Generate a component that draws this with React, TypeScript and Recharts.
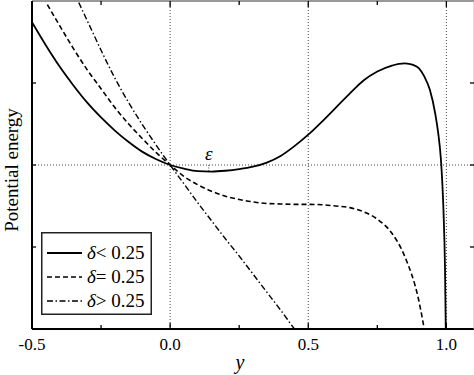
import React from 'react';
import { LineChart, Line, XAxis, YAxis, ReferenceLine, ReferenceDot } from 'recharts';

// ---- data ----
const xTicks = [-0.5, -0.25, 0, 0.25, 0.5, 0.75, 1.0];
const majorXTicks = [-0.5, 0, 0.5, 1.0];
const yTicks = [-1, 0, 1];
const gridX = [0, 0.5, 1.0];

const xSolid = [-0.5, -0.45, -0.4, -0.35, -0.3, -0.25, -0.2, -0.15, -0.1, -0.05, 0, 0.05, 0.1, 0.15, 0.2, 0.25, 0.3, 0.35, 0.4, 0.45, 0.5, 0.55, 0.6, 0.65, 0.7, 0.75, 0.8, 0.85, 0.88, 0.9, 0.92, 0.94, 0.96, 0.97, 0.98, 0.985, 0.99, 0.995, 0.999];
const vSolid = [1.74, 1.46, 1.2, 0.97, 0.76, 0.58, 0.42, 0.28, 0.16, 0.07, 0, -0.045, -0.075, -0.08, -0.07, -0.05, -0.02, 0.03, 0.11, 0.23, 0.37, 0.53, 0.7, 0.87, 1.03, 1.14, 1.21, 1.24, 1.22, 1.18, 1.08, 0.92, 0.62, 0.4, 0.08, -0.2, -0.6, -1.25, -2.3];

const xDashed = [-0.5, -0.45, -0.4, -0.35, -0.3, -0.25, -0.2, -0.15, -0.1, -0.05, 0, 0.05, 0.1, 0.15, 0.2, 0.25, 0.3, 0.35, 0.4, 0.45, 0.5, 0.55, 0.6, 0.65, 0.7, 0.75, 0.8, 0.85, 0.9, 0.93];
const vDashed = [2.3, 1.99, 1.7, 1.42, 1.16, 0.93, 0.7, 0.5, 0.32, 0.15, 0, -0.14, -0.24, -0.32, -0.38, -0.42, -0.45, -0.47, -0.475, -0.48, -0.48, -0.485, -0.5, -0.52, -0.57, -0.66, -0.82, -1.12, -1.65, -2.2];

const xDashDot = [-0.35, -0.3, -0.25, -0.2, -0.15, -0.1, -0.05, 0, 0.05, 0.1, 0.15, 0.2, 0.25, 0.3, 0.35, 0.4, 0.45, 0.5];
const vDashDot = [2.12, 1.76, 1.4, 1.06, 0.76, 0.49, 0.24, 0, -0.23, -0.46, -0.68, -0.9, -1.11, -1.33, -1.55, -1.77, -2.0, -2.22];

const epsX = 0.14;
const epsMin = -0.08;

const seriesNames = ['δ< 0.25', 'δ= 0.25', 'δ> 0.25'];

const toData = (xs: number[], vs: number[]) => xs.map((x, i) => ({ x, v: vs[i] }));
const dataSolid = toData(xSolid, vSolid);
const dataDashed = toData(xDashed, vDashed);
const dataDashDot = toData(xDashDot, vDashDot);

const FONT = "'Liberation Serif', 'Times New Roman', 'DejaVu Serif', serif";
const DASH = '5 3';
const DASHDOT = '6 2.5 1.5 2.5';

const series = [
  { name: seriesNames[0], data: dataSolid, dash: undefined as string | undefined, width: 1.8 },
  { name: seriesNames[1], data: dataDashed, dash: DASH, width: 1.6 },
  { name: seriesNames[2], data: dataDashDot, dash: DASHDOT, width: 1.4 },
];

const txt = (size: number, italic = false): React.CSSProperties => ({
  fontFamily: FONT,
  fontSize: size,
  fontStyle: italic ? 'italic' : 'normal',
  fill: '#000',
});

const BottomTick = (props: any) => {
  const { x, y, payload } = props;
  const major = majorXTicks.includes(payload.value);
  const len = major ? 6 : 4;
  return (
    <g>
      <line x1={x} y1={y} x2={x} y2={y - len} stroke="#000" strokeWidth={1.3} />
      {major && (
        <text x={x} y={y + 21} textAnchor="middle" style={txt(17)}>
          {payload.value.toFixed(1)}
        </text>
      )}
    </g>
  );
};

const TopTick = (props: any) => {
  const { x, y, payload } = props;
  const major = majorXTicks.includes(payload.value);
  const len = major ? 6 : 4;
  return <line x1={x} y1={y} x2={x} y2={y + len} stroke="#000" strokeWidth={1.3} />;
};

const LeftTick = (props: any) => {
  const { x, y } = props;
  return <line x1={x} y1={y} x2={x + 4} y2={y} stroke="#000" strokeWidth={1.3} />;
};

const RightTick = (props: any) => {
  const { x, y } = props;
  return <line x1={x} y1={y} x2={x - 4} y2={y} stroke="#000" strokeWidth={1.3} />;
};

const LegendBox = () => (
  <svg width={111} height={83} style={{ display: 'block' }}>
    <rect x={0.75} y={0.75} width={109.5} height={81.5} fill="#fff" stroke="#222" strokeWidth={1.5} />
    {series.map((s, i) => {
      const cy = 21 + i * 24;
      return (
        <g key={s.name}>
          <line x1={6} y1={cy} x2={41} y2={cy} stroke="#000" strokeWidth={s.width} strokeDasharray={s.dash} />
          <text x={46} y={cy + 6} style={txt(19)}>
            <tspan style={{ fontStyle: 'italic' }}>δ</tspan>
            <tspan>{s.name.slice(1)}</tspan>
          </text>
        </g>
      );
    })}
  </svg>
);

export default function App() {
  return (
    <div style={{ width: 474, height: 375, position: 'relative', background: '#fff' }}>
      <style>{'body{margin:0}'}</style>
      <LineChart width={474} height={375} margin={{ top: 0, right: -1, left: 31, bottom: 45 }}>
        <XAxis
          xAxisId="b"
          type="number"
          dataKey="x"
          domain={[-0.5, 1.1]}
          allowDataOverflow
          ticks={xTicks}
          interval={0}
          height={1}
          tickSize={0}
          tickMargin={0}
          tickLine={false}
          tick={<BottomTick />}
          axisLine={{ stroke: '#000', strokeWidth: 2 }}
          label={{
            content: () => (
              <text x={240} y={369} textAnchor="middle" style={txt(20, true)}>
                y
              </text>
            ),
          }}
        />
        <XAxis
          xAxisId="t"
          orientation="top"
          type="number"
          dataKey="x"
          domain={[-0.5, 1.1]}
          allowDataOverflow
          ticks={xTicks}
          interval={0}
          height={1}
          tickSize={0}
          tickMargin={0}
          tickLine={false}
          tick={<TopTick />}
          axisLine={{ stroke: '#999', strokeWidth: 2 }}
        />
        <YAxis
          yAxisId="l"
          type="number"
          domain={[-2, 2]}
          allowDataOverflow
          ticks={yTicks}
          interval={0}
          width={1}
          tickSize={0}
          tickMargin={0}
          tickLine={false}
          tick={<LeftTick />}
          axisLine={{ stroke: '#000', strokeWidth: 2 }}
          label={{
            content: () => (
              <text x={18} y={170} transform="rotate(-90 18 170)" textAnchor="middle" style={txt(19)}>
                Potential energy
              </text>
            ),
          }}
        />
        <YAxis
          yAxisId="r"
          orientation="right"
          type="number"
          domain={[-2, 2]}
          allowDataOverflow
          ticks={yTicks}
          interval={0}
          width={1}
          tickSize={0}
          tickMargin={0}
          tickLine={false}
          tick={<RightTick />}
          axisLine={{ stroke: '#bbb', strokeWidth: 1 }}
        />
        {gridX.map((gx) => (
          <ReferenceLine key={gx} xAxisId="b" yAxisId="l" x={gx} stroke="#444" strokeWidth={1} strokeDasharray="1 2" />
        ))}
        <ReferenceLine xAxisId="b" yAxisId="l" y={0} stroke="#444" strokeWidth={1} strokeDasharray="1 2" />
        <ReferenceLine
          xAxisId="b"
          yAxisId="l"
          segment={[{ x: epsX, y: 0 }, { x: epsX, y: epsMin }]}
          stroke="#444"
          strokeWidth={1}
          strokeDasharray="1 1.5"
        />
        <ReferenceDot
          xAxisId="b"
          yAxisId="l"
          x={epsX}
          y={0}
          r={0}
          fill="none"
          stroke="none"
          label={{
            content: (p: any) => {
              const vb = p.viewBox || {};
              const cx = (vb.x ?? 0) + (vb.width ?? 0) / 2;
              const cy = vb.y ?? 0;
              return (
                <text x={cx} y={cy - 5} textAnchor="middle" style={txt(19, true)}>
                  ε
                </text>
              );
            },
          }}
        />
        {series.map((s) => (
          <Line
            key={s.name}
            xAxisId="b"
            yAxisId="l"
            data={s.data}
            dataKey="v"
            name={s.name}
            type="monotone"
            stroke="#000"
            strokeWidth={s.width}
            strokeDasharray={s.dash}
            dot={false}
            activeDot={false}
            isAnimationActive={false}
          />
        ))}
      </LineChart>
      <div style={{ position: 'absolute', left: 41, top: 232 }}>
        <LegendBox />
      </div>
    </div>
  );
}
